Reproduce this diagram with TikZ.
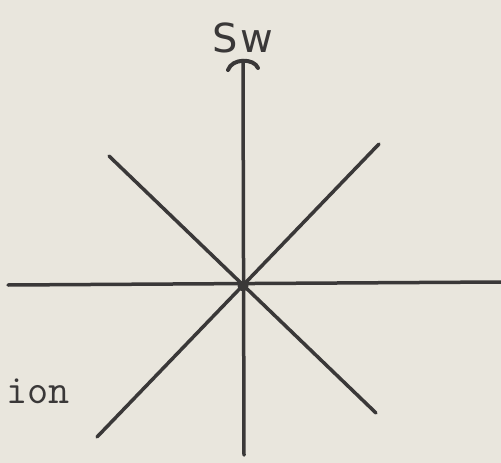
\documentclass[tikz,border=0pt]{standalone}
\usepackage{fontspec}
\newfontfamily\handfont{DejaVu Sans}
\definecolor{paper}{RGB}{233,230,221}
\definecolor{ink}{RGB}{58,56,56}
\begin{document}
\begin{tikzpicture}[x=1pt, y=-1pt, line cap=round]
    \fill[paper](0,0)rectangle(501,463);
    \useasboundingbox(0,0)rectangle(501,463);
    \coordinate(O)at(243,286);
    \coordinate(N)at(243,63);
    \coordinate(S)at(244,455);
    \coordinate(W)at(8,285);
    \coordinate(E)at(501,282);
    \coordinate(NW)at(109,156);
    \coordinate(SE)at(376,413);
    \coordinate(NE)at(379,144);
    \coordinate(SW)at(97,437);
    \draw[ink, line width=3.5pt](N)--(S);
    \draw[ink, line width=3.5pt](W)--(E);
    \draw[ink, line width=3.5pt](NW)--(SE);
    \draw[ink, line width=3.5pt](NE)--(SW);
    \fill[ink](O)circle(5.5);
    \draw[ink, line width=4pt](228,70)..controls(232,58)and(254,58)..(258,68);
    \node[ink, font=\handfont\fontsize{40}{40}\selectfont, inner sep=0pt](dir)at(243,38){S\kern2pt w};
    \node[ink, font=\ttfamily\fontsize{41}{41}\selectfont, inner sep=0pt, anchor=base west](tail)at(6,403){ion};
\end{tikzpicture}
\end{document}
